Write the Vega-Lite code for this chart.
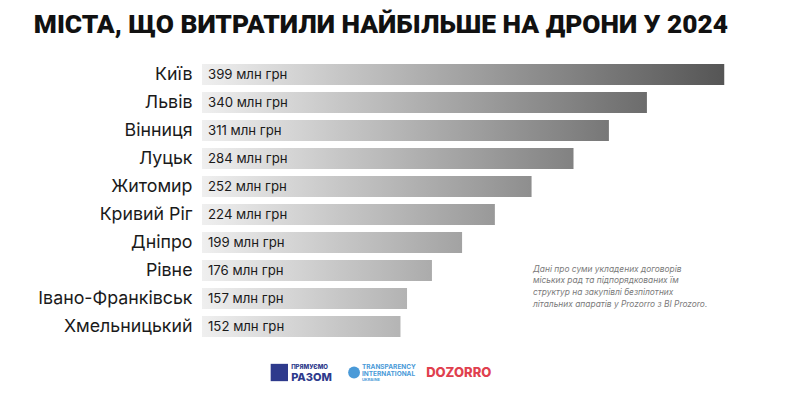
{
  "$schema": "https://vega.github.io/schema/vega-lite/v6.json",
  "width": 523,
  "height": 280,
  "autosize": {"type": "none"},
  "padding": {"left": 202, "top": 60.5, "right": 75, "bottom": 53.5},
  "background": "#ffffff",
  "config": {"view": {"stroke": null}, "font": "Inter"},
  "title": {
    "text": "МІСТА, ЩО ВИТРАТИЛИ НАЙБІЛЬШЕ НА ДРОНИ У 2024",
    "anchor": "start",
    "frame": "bounds",
    "font": "Roboto",
    "fontSize": 26.3,
    "fontWeight": 900,
    "color": "#111111",
    "offset": 22,
    "dx": -4
  },
  "data": {
    "values": [
      {"city": "Київ", "value": 399, "label": "399 млн грн"},
      {"city": "Львів", "value": 340, "label": "340 млн грн"},
      {"city": "Вінниця", "value": 311, "label": "311 млн грн"},
      {"city": "Луцьк", "value": 284, "label": "284 млн грн"},
      {"city": "Житомир", "value": 252, "label": "252 млн грн"},
      {"city": "Кривий Ріг", "value": 224, "label": "224 млн грн"},
      {"city": "Дніпро", "value": 199, "label": "199 млн грн"},
      {"city": "Рівне", "value": 176, "label": "176 млн грн"},
      {"city": "Івано-Франківськ", "value": 157, "label": "157 млн грн"},
      {"city": "Хмельницький", "value": 152, "label": "152 млн грн"}
    ]
  },
  "transform": [{"joinaggregate": [{"op": "max", "field": "value", "as": "maxv"}]}],
  "encoding": {
    "y": {
      "field": "city",
      "type": "nominal",
      "sort": null,
      "scale": {"paddingInner": 0.25, "paddingOuter": 0.125},
      "axis": {
        "title": null,
        "domain": false,
        "ticks": false,
        "labelPadding": 10,
        "labelFont": "Inter",
        "labelFontSize": 17.8,
        "labelColor": "#1a1a1a",
        "labelLimit": 300
      }
    }
  },
  "layer": [
    {
      "mark": {
        "type": "bar",
        "color": {
          "gradient": "linear",
          "x1": 0, "y1": 0, "x2": 1, "y2": 0,
          "stops": [
            {"offset": 0, "color": "#efefef"},
            {"offset": 1, "color": "#555555"}
          ]
        }
      },
      "encoding": {
        "x": {"field": "maxv", "type": "quantitative", "scale": {"domain": [0, 399], "nice": false}, "axis": null},
        "x2": {"datum": 0}
      }
    },
    {
      "mark": {"type": "bar", "color": "#ffffff", "stroke": "#ffffff", "strokeWidth": 1.5},
      "encoding": {
        "x": {"field": "value", "type": "quantitative"},
        "x2": {"field": "maxv"}
      }
    },
    {
      "mark": {"type": "text", "align": "left", "baseline": "middle", "dx": 6, "font": "Inter", "fontSize": 13.2, "color": "#1a1a1a"},
      "encoding": {
        "x": {"datum": 0, "type": "quantitative"},
        "text": {"field": "label", "type": "nominal"}
      }
    },
    {
      "data": {"values": [{}]},
      "transform": [],
      "layer": [
        {
          "mark": {
            "type": "text", "align": "left", "baseline": "top", "dy": -6,
            "font": "Inter", "fontStyle": "italic", "fontSize": 8.4, "color": "#7a7a7a", "lineHeight": 11.7,
            "text": ["Дані про суми укладених договорів", "міських рад та підпорядкованих їм", "структур на закупівлі безпілотних", "літальних апаратів у Prozorro з BI Prozoro."]
          },
          "encoding": {
            "x": {"datum": 252.5, "type": "quantitative"},
            "y": {"datum": "Рівне", "type": "nominal"}
          }
        },
        {
          "mark": {"type": "point", "shape": "square", "filled": true, "color": "#2e3a8c", "size": 300, "opacity": 1, "yOffset": 46},
          "encoding": {
            "x": {"datum": 59, "type": "quantitative"},
            "y": {"datum": "Хмельницький", "type": "nominal"}
          }
        },
        {
          "mark": {"type": "text", "align": "left", "baseline": "middle", "dy": 40, "font": "Inter", "fontWeight": 800, "fontSize": 6, "color": "#2e3a8c", "text": "ПРЯМУЄМО"},
          "encoding": {"x": {"datum": 68, "type": "quantitative"}, "y": {"datum": "Хмельницький", "type": "nominal"}}
        },
        {
          "mark": {"type": "text", "align": "left", "baseline": "middle", "dy": 51, "font": "Inter", "fontWeight": 800, "fontSize": 11, "color": "#2e3a8c", "text": "РАЗОМ"},
          "encoding": {"x": {"datum": 68, "type": "quantitative"}, "y": {"datum": "Хмельницький", "type": "nominal"}}
        },
        {
          "mark": {"type": "point", "shape": "circle", "filled": true, "color": "#4a9ad8", "size": 140, "opacity": 1, "yOffset": 46},
          "encoding": {"x": {"datum": 116, "type": "quantitative"}, "y": {"datum": "Хмельницький", "type": "nominal"}}
        },
        {
          "mark": {"type": "text", "align": "left", "baseline": "middle", "dy": 40, "font": "Inter", "fontWeight": 700, "fontSize": 6.5, "color": "#4a9ad8", "text": "TRANSPARENCY"},
          "encoding": {"x": {"datum": 122, "type": "quantitative"}, "y": {"datum": "Хмельницький", "type": "nominal"}}
        },
        {
          "mark": {"type": "text", "align": "left", "baseline": "middle", "dy": 47, "font": "Inter", "fontWeight": 700, "fontSize": 6.5, "color": "#4a9ad8", "text": "INTERNATIONAL"},
          "encoding": {"x": {"datum": 122, "type": "quantitative"}, "y": {"datum": "Хмельницький", "type": "nominal"}}
        },
        {
          "mark": {"type": "text", "align": "left", "baseline": "middle", "dy": 53, "font": "Inter", "fontWeight": 700, "fontSize": 4, "color": "#4a9ad8", "text": "UKRAINE"},
          "encoding": {"x": {"datum": 122, "type": "quantitative"}, "y": {"datum": "Хмельницький", "type": "nominal"}}
        },
        {
          "mark": {"type": "text", "align": "left", "baseline": "middle", "dy": 46, "font": "Inter", "fontWeight": 800, "fontSize": 13, "color": "#e0404e", "text": "DOZORRO"},
          "encoding": {"x": {"datum": 171, "type": "quantitative"}, "y": {"datum": "Хмельницький", "type": "nominal"}}
        }
      ]
    }
  ]
}
